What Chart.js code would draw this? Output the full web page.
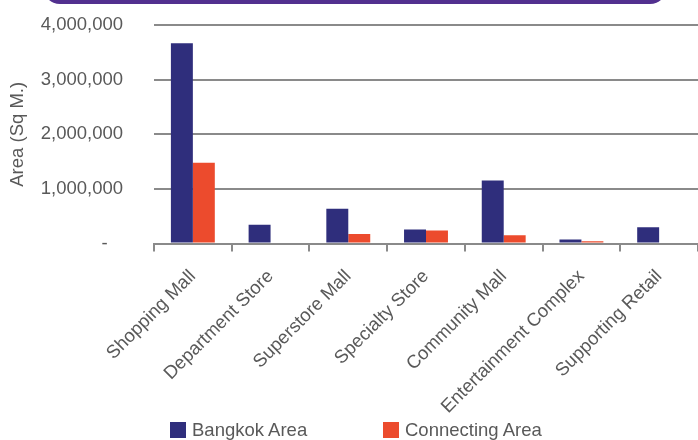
<!DOCTYPE html>
<html>
<head>
<meta charset="utf-8">
<script src="https://cdn.jsdelivr.net/npm/chart.js@4.4.0/dist/chart.umd.min.js"></script>
<style>
    body { margin: 0; background: #fff; }
    #wrap { position: relative; width: 698px; height: 440px; overflow: hidden; background: #fff; }
    #faixa { position: absolute; left: 43px; top: -30px; width: 624px; height: 34px; background: #52308F; border-radius: 18px; }
    #legenda { position: absolute; top: 421px; left: 0; width: 698px; height: 18px; font: 18.5px "Liberation Sans", Arial, sans-serif; color: #595959; }
    .item { position: absolute; top: 0; line-height: 18px; white-space: nowrap; }
    .caixa { display: inline-block; width: 16px; height: 16px; vertical-align: top; margin-top: 1px; margin-right: 6px; }
</style>
</head>
<body>
<div id="wrap">
    <canvas id="grafico-area" width="698" height="440"></canvas>
    <div id="faixa"></div>
    <div id="legenda"></div>
</div>
<script>
// Categorias e valores (m²)
let categorias = ["Shopping Mall", "Department Store", "Superstore Mall", "Specialty Store",
    "Community Mall", "Entertainment Complex", "Supporting Retail"];
let bangkokArea = [3667000, 347000, 640000, 260000, 1157000, 73000, 298000];
let connectingArea = [1480000, 0, 175000, 238000, 152000, 42000, 0];
let ticksY = [0, 1000000, 2000000, 3000000, 4000000];

let fonte = { family: "'Liberation Sans', Arial, sans-serif", size: 18.5 };
let corTexto = "#595959";
let corLinha = "#8a8a8a";

// Estrutura de dados
let dadosArea = {
    labels: categorias,
    datasets: [{
        label: "Bangkok Area",
        data: bangkokArea,
        backgroundColor: "#2F2E7C",
        borderWidth: 0,
    },
    {
        label: "Connecting Area",
        data: connectingArea,
        backgroundColor: "#EC4B2D",
        borderWidth: 0,
    }]
};

// Config
const configArea = {
    type: "bar",
    data: dadosArea,
    options: {
        responsive: false,
        animation: false,
        layout: { padding: { left: 7, top: 0, right: 0, bottom: 8 } },
        datasets: { bar: { barPercentage: 1, categoryPercentage: 0.565 } },
        plugins: {
            legend: { display: false },
            tooltip: { enabled: false }
        },
        scales: {
            x: {
                afterFit: (axis) => { axis.paddingLeft = 0; axis.paddingRight = 0; },
                grid: { drawOnChartArea: false, drawTicks: true, tickLength: 8, color: corLinha, lineWidth: 2 },
                border: { display: true, color: corLinha, width: 2 },
                ticks: { color: corTexto, font: fonte, minRotation: 45, maxRotation: 45, padding: 14 }
            },
            y: {
                min: 0,
                max: 4000000,
                afterBuildTicks: (axis) => { axis.ticks = ticksY.map(v => ({ value: v })); },
                // largura fixa do eixo e espaço no topo
                afterFit: (axis) => { axis.width = 147; axis.paddingTop = 25; axis.paddingBottom = 0; },
                grid: { color: corLinha, lineWidth: 2, drawTicks: false },
                border: { display: false },
                ticks: {
                    color: corTexto,
                    font: fonte,
                    padding: 31,
                    callback: (v) => v === 0 ? "-   " : v.toLocaleString("en-US")
                },
                title: { display: true, text: "Area (Sq M.)", color: corTexto, font: fonte, padding: 0 }
            }
        }
    }
};

let graficoArea = new Chart(document.getElementById("grafico-area"), configArea);

// Legenda montada a partir dos datasets
let posLegenda = [170, 383];
graficoArea.data.datasets.forEach((ds, i) => {
    let item = document.createElement("div");
    item.className = "item";
    item.style.left = posLegenda[i] + "px";
    item.innerHTML = `<span class="caixa" style="background:${ds.backgroundColor}"></span>${ds.label}`;
    document.getElementById("legenda").appendChild(item);
});
</script>
</body>
</html>
